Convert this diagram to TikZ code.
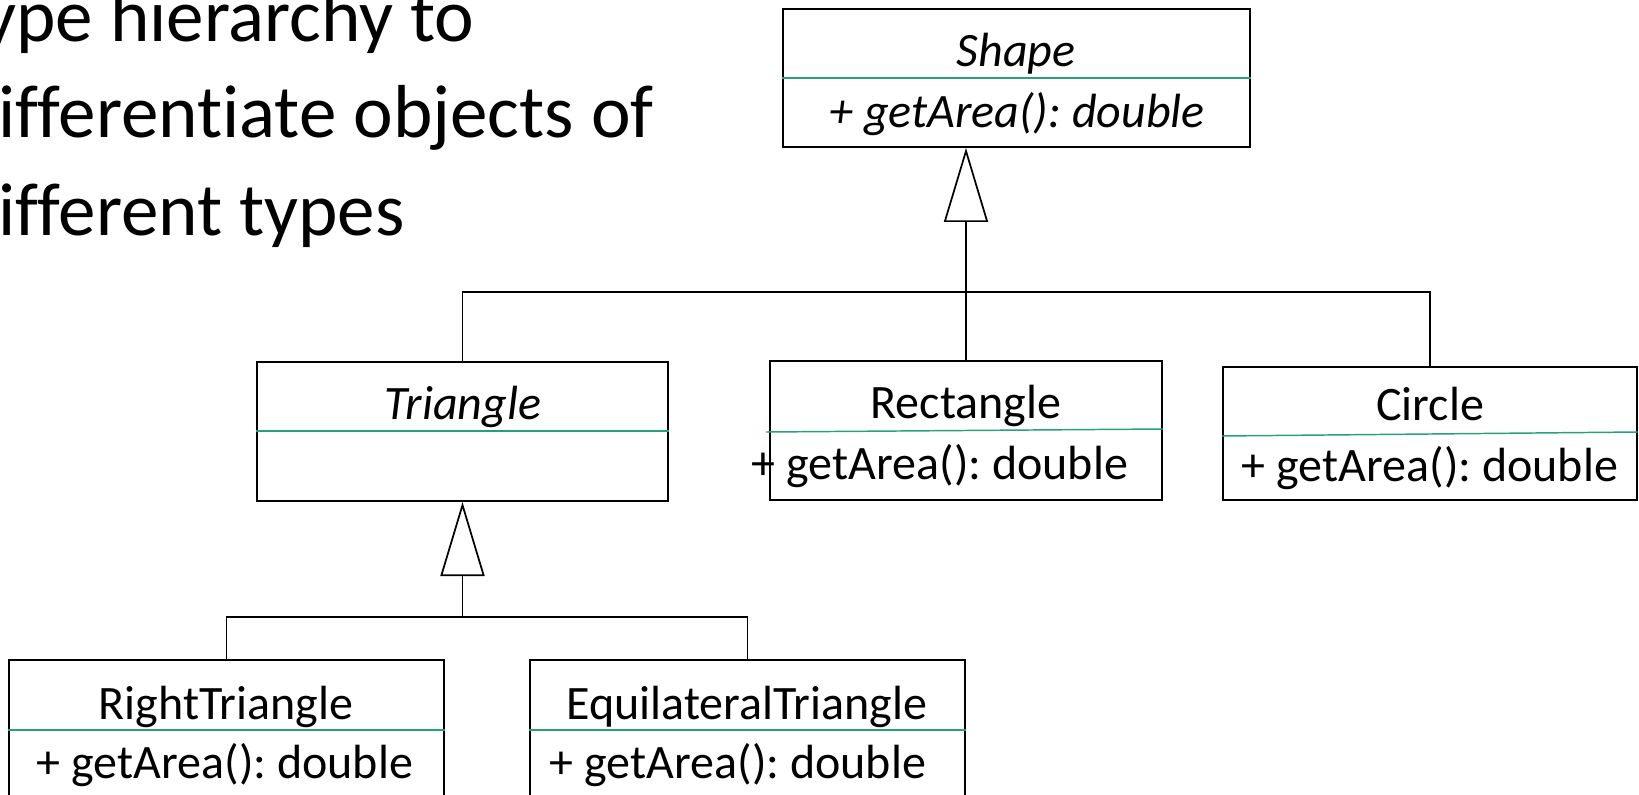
\documentclass[tikz,border=0pt]{standalone}
\usepackage{fontspec}
\setmainfont{Carlito}[Ligatures=NoCommon]
\usetikzlibrary{arrows.meta}
\frenchspacing

\definecolor{sepgreen}{RGB}{40,160,125}

\tikzset{
  classbox/.style={draw,line width=1.5pt,rectangle,inner sep=0pt},
  sep/.style={draw=sepgreen,line width=1.1pt},
  conn/.style={line width=0.8pt},
  genarrow/.style={line width=0.8pt,-{Triangle[open,length=55.5pt,width=33pt,line width=1.3pt]}},
  umltext/.style={anchor=base,inner sep=0pt,font=\fontsize{36}{43}\selectfont},
  bigtext/.style={anchor=base west,inner sep=0pt,font=\fontsize{56.3}{72}\selectfont}
}

\begin{document}
\begin{tikzpicture}[x=0.75pt,y=0.75pt,yscale=-1,xscale=1]
\useasboundingbox (0,0) rectangle (1639,795);

% Text Node
\node (line1) [bigtext] at (-18,42) {ype hierarchy to};
% Text Node
\node (line2) [bigtext] at (-2,138) {ifferentiate objects of};
% Text Node
\node (line3) [bigtext] at (-2,235) {ifferent types};

%Class boxes
\node (shape) [classbox,minimum width=350.25pt,minimum height=103.5pt] at (1016.5,78) {};
\node (tri) [classbox,minimum width=308.25pt,minimum height=104.25pt] at (462.5,431.5) {};
\node (rect) [classbox,minimum width=294pt,minimum height=104.25pt] at (966,430.5) {};
\node (circ) [classbox,minimum width=310.5pt,minimum height=99.75pt] at (1430,433.5) {};
\node (rtri) [classbox,minimum width=326.25pt,minimum height=127.5pt] at (226.5,745) {};
\node (etri) [classbox,minimum width=326.25pt,minimum height=127.5pt] at (747.5,745) {};

%Separators
\draw[sep] (shape.west |- 0,78) -- (shape.east |- 0,78);
\draw[sep] (tri.west |- 0,431) -- (tri.east |- 0,431);
\draw[sep] (766,432) -- (rect.east |- 0,429);
\draw[sep] (circ.west |- 0,436) -- (circ.east |- 0,432);
\draw[sep] (rtri.west |- 0,730) -- (rtri.east |- 0,730);
\draw[sep] (etri.west |- 0,730) -- (etri.east |- 0,730);

% Text Node
\node (shapeName) [umltext] at (1016,67) {\itshape Shape};
\node (shapeOp) [umltext] at (1017,128) {\itshape + getArea(): double};
\node (triName) [umltext] at (463,419) {\itshape Triangle};
\node (rectName) [umltext] at (966,418) {Rectangle};
\node (rectOp) [umltext] at (940,479) {+ getArea(): double};
\node (circName) [umltext] at (1430,420) {Circle};
\node (circOp) [umltext] at (1430,481) {+ getArea(): double};
\node (rtriName) [umltext] at (226,719) {RightTriangle};
\node (rtriOp) [umltext] at (225,778) {+ getArea(): double};
\node (etriName) [umltext] at (747,719) {EquilateralTriangle};
\node (etriOp) [umltext] at (738,778) {+ getArea(): double};

%Generalisation lines
\coordinate (j1) at (rect.north |- 0,292);
\coordinate (j2) at (tri.south |- 0,617);
\draw[genarrow] (j1) -- (j1 |- shape.south);
\draw[conn] (tri.north) |- (j1) -| (circ.north);
\draw[conn] (j1) -- (rect.north);
\draw[genarrow] (j2) -- (tri.south);
\draw[conn] (rtri.north) |- (j2) -| (etri.north);

\end{tikzpicture}
\end{document}
